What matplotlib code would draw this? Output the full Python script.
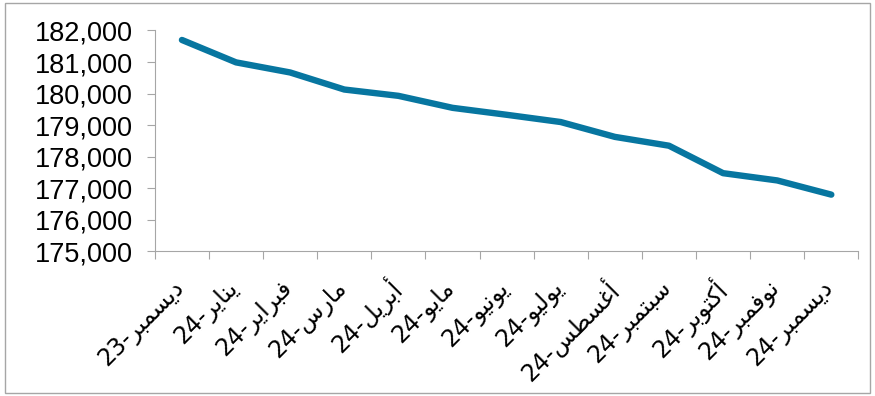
import matplotlib.pyplot as plt
from matplotlib.patches import Rectangle
from matplotlib.ticker import FuncFormatter

# Data
months = ["ديسمبر", "يناير", "فبراير", "مارس", "أبريل", "مايو", "يونيو",
          "يوليو", "أغسطس", "سبتمبر", "أكتوبر", "نوفمبر", "ديسمبر"]
years = ["23", "24", "24", "24", "24", "24", "24",
         "24", "24", "24", "24", "24", "24"]
values = [181700, 180990, 180670, 180130, 179930, 179550, 179330,
          179100, 178630, 178350, 177480, 177250, 176800]

# matplotlib does no Arabic shaping, so pick the presentation forms by hand
# base code point (isolated form) and whether the letter joins to the next one
forms = {
    'ا': (0xFE8D, False), 'أ': (0xFE83, False), 'ب': (0xFE8F, True),
    'ت': (0xFE95, True), 'د': (0xFEA9, False), 'ر': (0xFEAD, False),
    'س': (0xFEB1, True), 'ط': (0xFEC1, True), 'غ': (0xFECD, True),
    'ف': (0xFED1, True), 'ك': (0xFED9, True), 'ل': (0xFEDD, True),
    'م': (0xFEE1, True), 'ن': (0xFEE5, True), 'و': (0xFEED, False),
    'ي': (0xFEF1, True),
}


def shape(word):
    out = []
    for i, ch in enumerate(word):
        base, dual = forms[ch]
        prev_joins = i > 0 and forms[word[i - 1]][1]
        next_joins = dual and i < len(word) - 1
        if prev_joins and next_joins:
            cp = base + 3
        elif next_joins:
            cp = base + 2
        elif prev_joins:
            cp = base + 1
        else:
            cp = base
        out.append(chr(cp))
    return ''.join(reversed(out))


labels = [y + "-" + shape(m) for m, y in zip(months, years)]

fig = plt.figure(figsize=(8.75, 3.96), dpi=100)
ax = fig.add_axes([0.177, 0.365, 0.804, 0.558])

x = list(range(len(values)))
ax.plot(x, values, color='#0776A0', linewidth=4.6, solid_capstyle='round',
        solid_joinstyle='round')

ax.set_xlim(-0.5, len(values) - 0.5)
ax.set_ylim(175000, 182000)
ax.set_yticks(range(175000, 182001, 1000))
ax.yaxis.set_major_formatter(FuncFormatter(lambda v, p: f"{int(v):,}"))

# category ticks sit on the boundaries, labels in the middle
ax.set_xticks([i - 0.5 for i in range(len(values) + 1)])
ax.set_xticklabels([])
for i, lab in enumerate(labels):
    ax.text(i - 0.02, 173950, lab, rotation=45, rotation_mode='anchor',
            ha='right', va='center', fontsize=17, family='DejaVu Sans')

for side in ['top', 'right']:
    ax.spines[side].set_visible(False)
for side in ['left', 'bottom']:
    ax.spines[side].set_color('#A6A6A6')
ax.tick_params(axis='both', direction='out', length=6, color='#A6A6A6')
ax.tick_params(axis='y', labelsize=19.5, pad=10)
for t in ax.get_yticklabels():
    t.set_family('Liberation Sans')

fig.patches.append(Rectangle((0.006, 0.008), 0.988, 0.984, transform=fig.transFigure,
                             fill=False, edgecolor='#A6A6A6', linewidth=1))

fig.savefig('out.png', dpi=100)
